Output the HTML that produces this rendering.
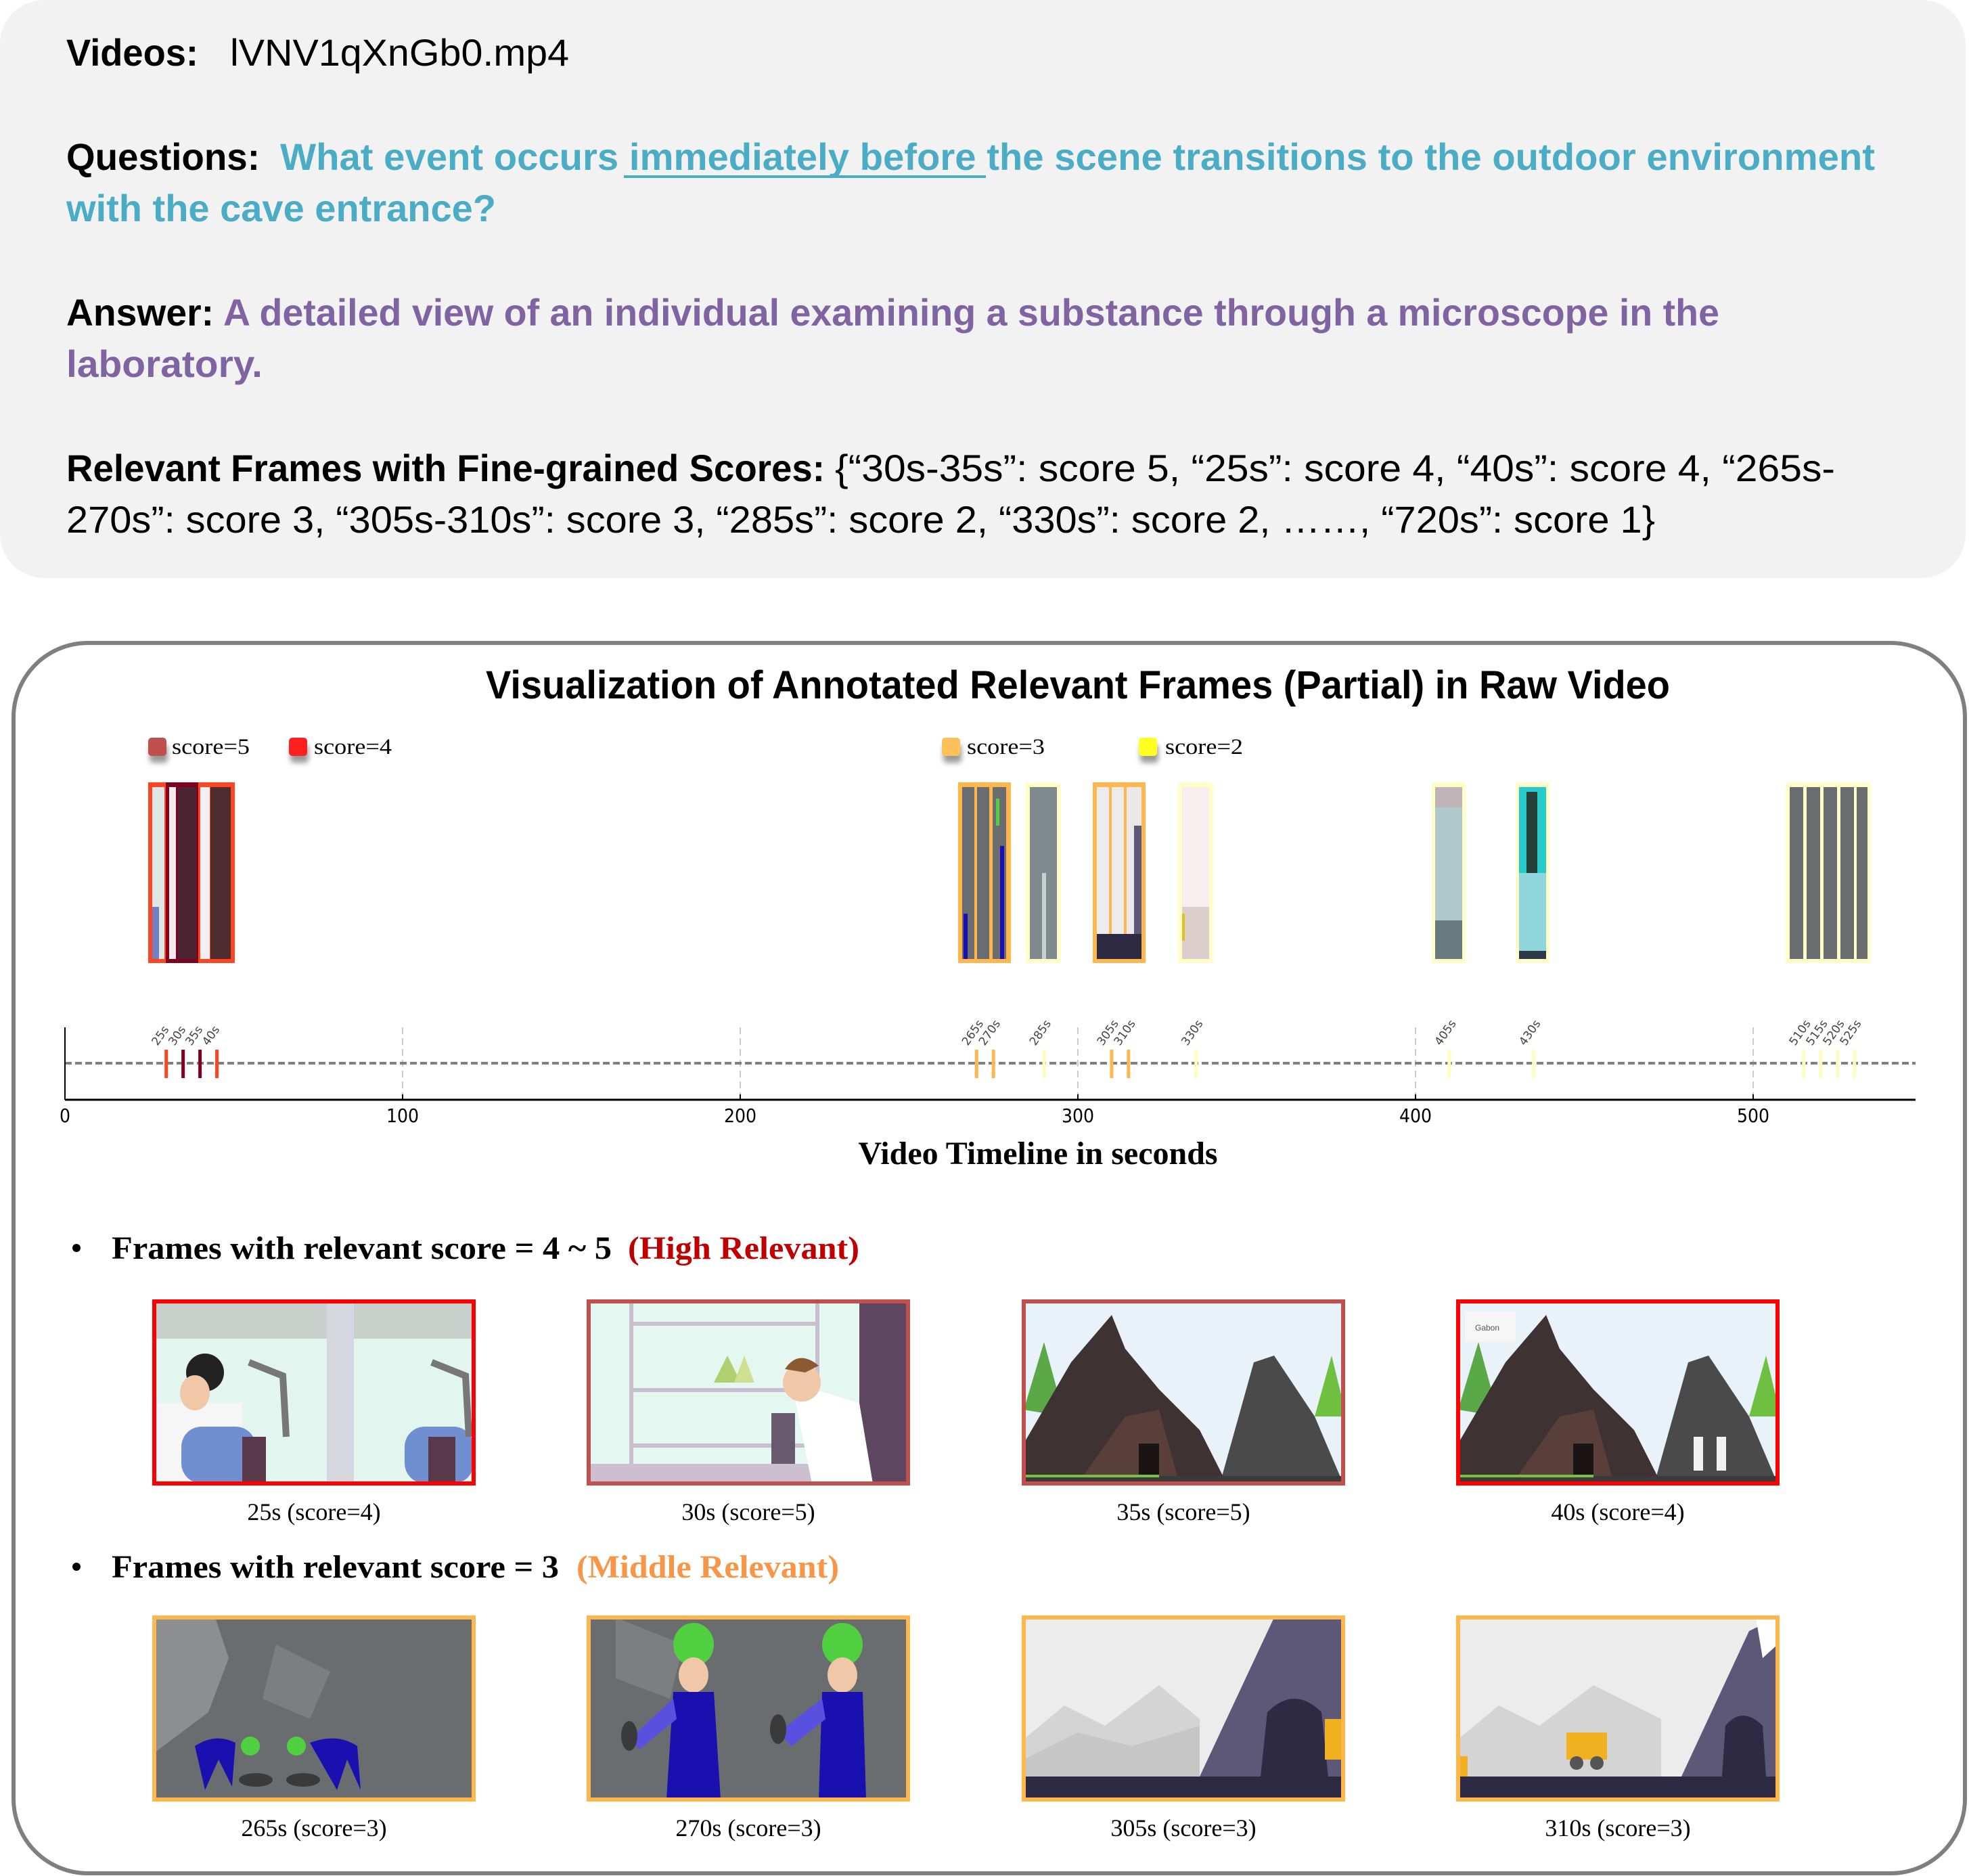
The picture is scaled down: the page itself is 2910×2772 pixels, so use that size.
<!DOCTYPE html>
<html><head><meta charset="utf-8">
<style>
html,body{margin:0;padding:0;background:#fff;}
svg{display:block;}
.hs{font-family:"Liberation Sans",sans-serif;font-size:56px;}
.sf{font-family:"Liberation Serif",serif;}
</style></head>
<body>
<svg id="root" width="2910" height="2772" viewBox="0 0 2910 2772" xmlns="http://www.w3.org/2000/svg">
  <rect x="0" y="0" width="2905" height="854" rx="65" fill="#f2f2f2"/>
  <g class="hs">
    <text x="98" y="97" font-weight="bold" textLength="195" lengthAdjust="spacingAndGlyphs">Videos:</text>
    <text x="340" y="97" textLength="501" lengthAdjust="spacingAndGlyphs">lVNV1qXnGb0.mp4</text>
    <text x="98" y="251" font-weight="bold" textLength="286" lengthAdjust="spacingAndGlyphs">Questions:</text>
    <text x="414" y="251" font-weight="bold" fill="#4bacc6" textLength="2357" lengthAdjust="spacingAndGlyphs">What event occurs immediately before the scene transitions to the outdoor environment</text>
    <rect x="922" y="259" width="535" height="4" fill="#4bacc6"/>
    <text x="98" y="327" font-weight="bold" fill="#4bacc6" textLength="635" lengthAdjust="spacingAndGlyphs">with the cave entrance?</text>
    <text x="98" y="481" font-weight="bold" textLength="218" lengthAdjust="spacingAndGlyphs">Answer:</text>
    <text x="330" y="481" font-weight="bold" fill="#8064a2" textLength="2211" lengthAdjust="spacingAndGlyphs">A detailed view of an individual examining a substance through a microscope in the</text>
    <text x="98" y="557" font-weight="bold" fill="#8064a2" textLength="290" lengthAdjust="spacingAndGlyphs">laboratory.</text>
    <text x="98" y="711" font-weight="bold" textLength="1121" lengthAdjust="spacingAndGlyphs">Relevant Frames with Fine-grained Scores:</text>
    <text x="1234" y="711" textLength="1478" lengthAdjust="spacingAndGlyphs">{“30s-35s”: score 5, “25s”: score 4, “40s”: score 4, “265s-</text>
    <text x="98" y="787" textLength="2348" lengthAdjust="spacingAndGlyphs">270s”: score 3, “305s-310s”: score 3, “285s”: score 2, “330s”: score 2, ……, “720s”: score 1}</text>
  </g>

  <rect x="20" y="950" width="2884" height="1818" rx="110" fill="#fff" stroke="#7f7f7f" stroke-width="6"/>
  <text x="718" y="1032" font-family="Liberation Sans, sans-serif" font-weight="bold" font-size="58" textLength="1750" lengthAdjust="spacingAndGlyphs">Visualization of Annotated Relevant Frames (Partial) in Raw Video</text>

  <defs><filter id="sh" x="-50%" y="-50%" width="200%" height="250%"><feGaussianBlur stdDeviation="4"/></filter></defs>
  <g class="sf" font-size="33">
    <g>
      <rect x="221" y="1100" width="27" height="27" rx="5" fill="#999" filter="url(#sh)"/>
      <rect x="219" y="1090" width="27" height="27" rx="5" fill="#c0504d"/>
      <text x="254" y="1114" textLength="115" lengthAdjust="spacingAndGlyphs">score=5</text>
    </g>
    <g>
      <rect x="429" y="1100" width="27" height="27" rx="5" fill="#999" filter="url(#sh)"/>
      <rect x="427" y="1090" width="27" height="27" rx="5" fill="#ff2020"/>
      <text x="464" y="1114" textLength="115" lengthAdjust="spacingAndGlyphs">score=4</text>
    </g>
    <g>
      <rect x="1394" y="1100" width="27" height="27" rx="5" fill="#999" filter="url(#sh)"/>
      <rect x="1392" y="1090" width="27" height="27" rx="5" fill="#ffc05a"/>
      <text x="1429" y="1114" textLength="115" lengthAdjust="spacingAndGlyphs">score=3</text>
    </g>
    <g>
      <rect x="1685" y="1100" width="27" height="27" rx="5" fill="#999" filter="url(#sh)"/>
      <rect x="1683" y="1090" width="27" height="27" rx="5" fill="#ffff20"/>
      <text x="1722" y="1114" textLength="115" lengthAdjust="spacingAndGlyphs">score=2</text>
    </g>
  </g>

  <g>
    <g>
      <rect x="219" y="1156" width="128" height="267" fill="#ff4422"/>
      <rect x="225" y="1163" width="18" height="254" fill="#dfe6e6"/>
      <rect x="225" y="1340" width="10" height="77" fill="#7080c0"/>
      <rect x="245" y="1156" width="48" height="267" fill="#800020"/>
      <rect x="250" y="1163" width="10" height="254" fill="#f3e9ef"/>
      <rect x="263" y="1163" width="27" height="254" fill="#4a2430"/>
      <rect x="296" y="1163" width="14" height="254" fill="#f2eef2"/>
      <rect x="311" y="1163" width="30" height="254" fill="#4c2c2e"/>
    </g>
    <g>
      <rect x="1416" y="1156" width="78" height="267" fill="#ffb74d"/>
      <rect x="1422" y="1163" width="18" height="254" fill="#6a6d70"/>
      <rect x="1424" y="1350" width="6" height="67" fill="#1a10b0"/>
      <rect x="1444" y="1163" width="18" height="254" fill="#6a6d70"/>
      <rect x="1467" y="1163" width="20" height="254" fill="#6a6d70"/>
      <rect x="1472" y="1180" width="5" height="40" fill="#50d040"/>
      <rect x="1478" y="1250" width="6" height="167" fill="#1a10b0"/>
    </g>
    <g>
      <rect x="1516" y="1156" width="52" height="267" fill="#fffdc8"/>
      <rect x="1522" y="1163" width="40" height="254" fill="#7e8a8c"/>
      <rect x="1540" y="1290" width="6" height="127" fill="#c8d0d0"/>
    </g>
    <g>
      <rect x="1615" y="1156" width="78" height="267" fill="#ffb74d"/>
      <rect x="1621" y="1163" width="18" height="254" fill="#ececec"/>
      <rect x="1643" y="1163" width="18" height="254" fill="#ececec"/>
      <rect x="1665" y="1163" width="22" height="254" fill="#e8e8e8"/>
      <rect x="1621" y="1380" width="66" height="37" fill="#2e2a44"/>
      <rect x="1676" y="1220" width="11" height="160" fill="#5e5878"/>
    </g>
    <g>
      <rect x="1741" y="1156" width="52" height="267" fill="#fffdc8"/>
      <rect x="1747" y="1163" width="40" height="240" fill="#f7efef"/>
      <rect x="1747" y="1340" width="40" height="77" fill="#dccfcb"/>
      <rect x="1747" y="1350" width="4" height="40" fill="#e0c020"/>
    </g>
    <g>
      <rect x="2116" y="1156" width="50" height="267" fill="#fffdc8"/>
      <rect x="2121" y="1163" width="40" height="254" fill="#aec8cc"/>
      <rect x="2121" y="1163" width="40" height="30" fill="#c0b4b8"/>
      <rect x="2121" y="1360" width="40" height="57" fill="#667a80"/>
    </g>
    <g>
      <rect x="2240" y="1156" width="50" height="267" fill="#fffdc8"/>
      <rect x="2245" y="1163" width="40" height="254" fill="#26cccc"/>
      <rect x="2256" y="1170" width="16" height="170" fill="#244038"/>
      <rect x="2245" y="1290" width="40" height="127" fill="#8ed6dc"/>
      <rect x="2245" y="1405" width="40" height="12" fill="#2c3a48"/>
    </g>
    <g>
      <rect x="2639" y="1156" width="126" height="267" fill="#fffdc8"/>
      <rect x="2645" y="1163" width="20" height="254" fill="#6a6d70"/>
      <rect x="2670" y="1163" width="20" height="254" fill="#6a6d70"/>
      <rect x="2695" y="1163" width="20" height="254" fill="#6a6d70"/>
      <rect x="2720" y="1163" width="20" height="254" fill="#6a6d70"/>
      <rect x="2744" y="1163" width="16" height="254" fill="#6a6d70"/>
    </g>
  </g>

  <g id="timeline"></g>
  <text x="1534" y="1720" text-anchor="middle" class="sf" font-weight="bold" font-size="48">Video Timeline in seconds</text>

  <g class="sf" font-weight="bold" font-size="48">
    <circle cx="113" cy="1844" r="6" fill="#000"/>
    <text x="165" y="1860" textLength="739" lengthAdjust="spacingAndGlyphs">Frames with relevant score = 4 ~ 5</text>
    <text x="928" y="1860" fill="#c00000" textLength="342" lengthAdjust="spacingAndGlyphs">(High Relevant)</text>
  </g>
  <g class="sf" font-weight="bold" font-size="48">
    <circle cx="113" cy="2315" r="6" fill="#000"/>
    <text x="165" y="2331" textLength="661" lengthAdjust="spacingAndGlyphs">Frames with relevant score = 3</text>
    <text x="852" y="2331" fill="#f79646" textLength="388" lengthAdjust="spacingAndGlyphs">(Middle Relevant)</text>
  </g>

  <g>
    <svg x="228" y="1923" width="472" height="269" viewBox="0 0 472 269" preserveAspectRatio="none">
      <rect width="472" height="269" fill="#e2f5ef"/>
      <rect x="0" y="0" width="472" height="55" fill="#c8d0cc"/>
      <rect x="255" y="0" width="40" height="269" fill="#d6d6de"/>
      <rect x="0" y="150" width="130" height="119" fill="#f6f6f6"/>
      <rect x="40" y="185" width="110" height="84" rx="30" fill="#6f8fd0"/>
      <rect x="370" y="185" width="102" height="84" rx="30" fill="#6f8fd0"/>
      <rect x="130" y="200" width="35" height="69" fill="#5a3a4a"/>
      <rect x="405" y="200" width="40" height="69" fill="#5a3a4a"/>
      <circle cx="75" cy="105" r="28" fill="#222"/>
      <ellipse cx="60" cy="135" rx="22" ry="26" fill="#f0c8a8"/>
      <path d="M140 90 L190 110 L195 200" stroke="#777" stroke-width="10" fill="none"/>
      <path d="M410 90 L460 110 L465 200" stroke="#777" stroke-width="10" fill="none"/>
    </svg>
    <rect x="228" y="1923" width="472" height="269" fill="none" stroke="#ff0000" stroke-width="6"/>
  </g>
  <g>
    <svg x="870" y="1923" width="472" height="269" viewBox="0 0 472 269" preserveAspectRatio="none">
      <rect width="472" height="269" fill="#e4f7f1"/>
      <rect x="400" y="0" width="72" height="269" fill="#5e4560"/>
      <rect x="60" y="0" width="6" height="269" fill="#c8c0d0"/>
      <rect x="335" y="0" width="6" height="269" fill="#c8c0d0"/>
      <rect x="60" y="30" width="280" height="6" fill="#c8c0d0"/>
      <rect x="60" y="128" width="280" height="6" fill="#c8c0d0"/>
      <rect x="60" y="210" width="280" height="6" fill="#c8c0d0"/>
      <rect x="0" y="240" width="400" height="29" fill="#cbbfd0"/>
      <path d="M205 80 L225 120 L185 120 Z" fill="#b0d070"/>
      <path d="M230 80 L245 120 L215 120 Z" fill="#d0e090"/>
      <rect x="270" y="165" width="35" height="75" fill="#6a5a70"/>
      <path d="M300 120 L400 150 L420 269 L330 269 Z" fill="#ffffff"/>
      <circle cx="315" cy="120" r="28" fill="#f0c8a8"/>
      <path d="M290 100 Q310 70 340 95 L320 105 Z" fill="#8a5a30"/>
    </svg>
    <rect x="870" y="1923" width="472" height="269" fill="none" stroke="#c0504d" stroke-width="6"/>
  </g>
  <g>
    <svg x="1513" y="1923" width="472" height="269" viewBox="0 0 472 269" preserveAspectRatio="none">
      <rect width="472" height="269" fill="#e8f2f8"/>
      <path d="M0 160 L30 60 L60 170 Z" fill="#5aa848"/>
      <path d="M430 170 L455 80 L472 150 L472 170 Z" fill="#6fbf40"/>
      <path d="M290 269 L340 90 L370 80 L430 170 L472 269 Z" fill="#4a4a4a"/>
      <path d="M0 269 L0 210 L70 90 L130 20 L150 70 L200 130 L260 190 L300 269 Z" fill="#3e3232"/>
      <path d="M80 269 L150 170 L200 160 L230 269 Z" fill="#5a3e3a"/>
      <rect x="170" y="210" width="30" height="55" fill="#1a1414"/>
      <rect x="0" y="258" width="472" height="11" fill="#3a3a3a"/>
      <rect x="0" y="256" width="200" height="4" fill="#7ac040"/>
    </svg>
    <rect x="1513" y="1923" width="472" height="269" fill="none" stroke="#c0504d" stroke-width="6"/>
  </g>
  <g>
    <svg x="2155" y="1923" width="472" height="269" viewBox="0 0 472 269" preserveAspectRatio="none">
      <rect width="472" height="269" fill="#e8f2f8"/>
      <rect x="10" y="15" width="75" height="45" fill="#f6f6f6"/>
      <text x="25" y="43" font-family="Liberation Sans, sans-serif" font-size="12" fill="#555">Gabon</text>
      <path d="M0 160 L30 60 L60 170 Z" fill="#5aa848"/>
      <path d="M430 170 L455 80 L472 150 L472 170 Z" fill="#6fbf40"/>
      <path d="M290 269 L340 90 L370 80 L430 170 L472 269 Z" fill="#4a4a4a"/>
      <path d="M0 269 L0 210 L70 90 L130 20 L150 70 L200 130 L260 190 L300 269 Z" fill="#3e3232"/>
      <path d="M80 269 L150 170 L200 160 L230 269 Z" fill="#5a3e3a"/>
      <rect x="170" y="210" width="30" height="55" fill="#1a1414"/>
      <rect x="348" y="200" width="14" height="50" fill="#f2f2f2"/>
      <rect x="382" y="200" width="14" height="50" fill="#f2f2f2"/>
      <rect x="0" y="258" width="472" height="11" fill="#3a3a3a"/>
      <rect x="0" y="256" width="200" height="4" fill="#7ac040"/>
    </svg>
    <rect x="2155" y="1923" width="472" height="269" fill="none" stroke="#ff0000" stroke-width="6"/>
  </g>

  <g>
    <svg x="228" y="2390" width="472" height="269" viewBox="0 0 472 269" preserveAspectRatio="none">
      <rect width="472" height="269" fill="#6a6d70"/>
      <path d="M0 0 L90 0 L110 60 L80 140 L0 200 Z" fill="#8c8e90"/>
      <path d="M180 40 L260 80 L230 150 L160 120 Z" fill="#7c7f82"/>
      <path d="M60 190 Q90 170 120 185 L115 250 L95 210 L75 255 Z" fill="#1a10b0"/>
      <path d="M230 185 Q270 170 300 190 L305 255 L285 210 L270 255 Z" fill="#1a10b0"/>
      <circle cx="142" cy="190" r="14" fill="#50d040"/>
      <circle cx="210" cy="190" r="14" fill="#50d040"/>
      <ellipse cx="150" cy="240" rx="25" ry="10" fill="#3a3a3a"/>
      <ellipse cx="220" cy="240" rx="25" ry="10" fill="#3a3a3a"/>
    </svg>
    <rect x="228" y="2390" width="472" height="269" fill="none" stroke="#ffb74d" stroke-width="6"/>
  </g>
  <g>
    <svg x="870" y="2390" width="472" height="269" viewBox="0 0 472 269" preserveAspectRatio="none">
      <rect width="472" height="269" fill="#6a6d70"/>
      <path d="M40 0 L140 40 L120 120 L40 90 Z" fill="#7c7f82"/>
      <ellipse cx="155" cy="40" rx="30" ry="32" fill="#50d040"/>
      <ellipse cx="375" cy="40" rx="30" ry="32" fill="#50d040"/>
      <ellipse cx="155" cy="85" rx="22" ry="26" fill="#f0c8a8"/>
      <ellipse cx="375" cy="85" rx="22" ry="26" fill="#f0c8a8"/>
      <path d="M125 110 L185 110 L195 269 L115 269 Z" fill="#1a10b0"/>
      <path d="M345 110 L405 110 L410 269 L340 269 Z" fill="#1a10b0"/>
      <path d="M125 120 L60 180 L75 195 L130 150 Z" fill="#5a50e0"/>
      <path d="M345 120 L280 170 L300 190 L350 150 Z" fill="#5a50e0"/>
      <ellipse cx="60" cy="175" rx="12" ry="22" fill="#3a3a3a"/>
      <ellipse cx="280" cy="165" rx="12" ry="22" fill="#3a3a3a"/>
    </svg>
    <rect x="870" y="2390" width="472" height="269" fill="none" stroke="#ffb74d" stroke-width="6"/>
  </g>
  <g>
    <svg x="1513" y="2390" width="472" height="269" viewBox="0 0 472 269" preserveAspectRatio="none">
      <rect width="472" height="269" fill="#ececec"/>
      <path d="M0 180 L60 130 L120 160 L200 100 L260 150 L260 235 L0 235 Z" fill="#d4d4d4"/>
      <path d="M0 210 L80 170 L160 190 L260 160 L260 235 L0 235 Z" fill="#c6c6c6"/>
      <path d="M260 235 L370 0 L472 0 L472 235 Z" fill="#5e5878"/>
      <path d="M350 235 L360 140 Q400 100 440 140 L450 235 Z" fill="#2e2a44"/>
      <rect x="445" y="150" width="27" height="60" fill="#f0b020"/>
      <rect x="0" y="235" width="472" height="34" fill="#2e2a44"/>
    </svg>
    <rect x="1513" y="2390" width="472" height="269" fill="none" stroke="#ffb74d" stroke-width="6"/>
  </g>
  <g>
    <svg x="2155" y="2390" width="472" height="269" viewBox="0 0 472 269" preserveAspectRatio="none">
      <rect width="472" height="269" fill="#ececec"/>
      <path d="M0 180 L60 130 L120 160 L200 100 L300 150 L300 235 L0 235 Z" fill="#d4d4d4"/>
      <path d="M330 235 L430 20 L472 0 L472 235 Z" fill="#5e5878"/>
      <path d="M440 0 L472 0 L472 40 L450 60 Z" fill="#ffffff"/>
      <path d="M390 235 L395 160 Q420 130 450 160 L455 235 Z" fill="#2e2a44"/>
      <rect x="160" y="170" width="60" height="40" fill="#f0b020"/>
      <circle cx="175" cy="215" r="10" fill="#555"/>
      <circle cx="205" cy="215" r="10" fill="#555"/>
      <rect x="0" y="205" width="14" height="30" fill="#f0b020"/>
      <rect x="0" y="235" width="472" height="34" fill="#2e2a44"/>
    </svg>
    <rect x="2155" y="2390" width="472" height="269" fill="none" stroke="#ffb74d" stroke-width="6"/>
  </g>

  <g class="sf" font-size="36" text-anchor="middle">
    <text x="464" y="2246">25s (score=4)</text>
    <text x="1106" y="2246">30s (score=5)</text>
    <text x="1749" y="2246">35s (score=5)</text>
    <text x="2391" y="2246">40s (score=4)</text>
    <text x="464" y="2713">265s (score=3)</text>
    <text x="1106" y="2713">270s (score=3)</text>
    <text x="1749" y="2713">305s (score=3)</text>
    <text x="2391" y="2713">310s (score=3)</text>
  </g>
</svg>

<script>
const frameLabels = ['25s','30s','35s','40s','265s','270s','285s','305s','310s','330s','405s','430s','510s','515s','520s','525s'];
const frameTimes = [25,30,35,40,265,270,285,305,310,330,405,430,510,515,520,525];
const frameScores = [4,5,5,4,3,3,2,3,3,2,2,2,2,2,2,2];
const tickValues = [0,100,200,300,400,500];
const tickLabels = ['0','100','200','300','400','500'];

(function(){
  const NS = 'http://www.w3.org/2000/svg';
  const g = document.getElementById('timeline');
  const X0 = 96, PXS = 4.99, XEND = 2831;
  const YTOP = 1518, YAX = 1625, YDASH = 1571, MT = 1551, MB = 1593;
  const markOffset = 5;
  const colorFor = {5:'#800020', 4:'#ff4422', 3:'#ffb74d', 2:'#fffcc0'};
  const xs = t => X0 + t * PXS;
  function mk(tag, attrs){
    const e = document.createElementNS(NS, tag);
    for (const k in attrs) e.setAttribute(k, attrs[k]);
    g.appendChild(e);
    return e;
  }
  tickValues.forEach((v,i) => {
    if (v === 0) return;
    const l = mk('line', {x1:xs(v), x2:xs(v), y1:YTOP, y2:YAX, stroke:'#cccccc', 'stroke-width':2, 'stroke-dasharray':'10 6'});
    
    
  });
  const d = mk('line', {x1:X0, x2:XEND, y1:YDASH, y2:YDASH, stroke:'#808080', 'stroke-width':4, 'stroke-dasharray':'10 5'});
  
  
  const ya = mk('line', {x1:X0, x2:X0, y1:YTOP, y2:YAX, stroke:'#000', 'stroke-width':2});
  
  
  const xa = mk('line', {x1:X0, x2:XEND, y1:YAX, y2:YAX, stroke:'#000', 'stroke-width':3});
  
  
  tickValues.forEach((v,i) => {
    const t = mk('line', {x1:xs(v), x2:xs(v), y1:YAX-8, y2:YAX, stroke:'#000', 'stroke-width':2});
    
    
    const tx = mk('text', {x:xs(v), y:1658, 'text-anchor':'middle', 'font-family':'DejaVu Sans Condensed, DejaVu Sans, sans-serif', 'font-size':28, fill:'#000'});
    tx.textContent = tickLabels[i];
    
    
  });
  frameTimes.forEach((t,i) => {
    const x = xs(t + markOffset);
    const m = mk('line', {x1:x, x2:x, y1:MT, y2:MB, stroke:colorFor[frameScores[i]], 'stroke-width':5});
    
    
    const lx = x - 13, ly = 1546;
    const lb = mk('text', {x:lx, y:ly, 'font-family':'DejaVu Sans, sans-serif', 'font-size':17, fill:'#444', transform:'rotate(-55 '+lx+' '+ly+')'});
    lb.textContent = frameLabels[i];
    
    
  });
})();
</script>
</body></html>
